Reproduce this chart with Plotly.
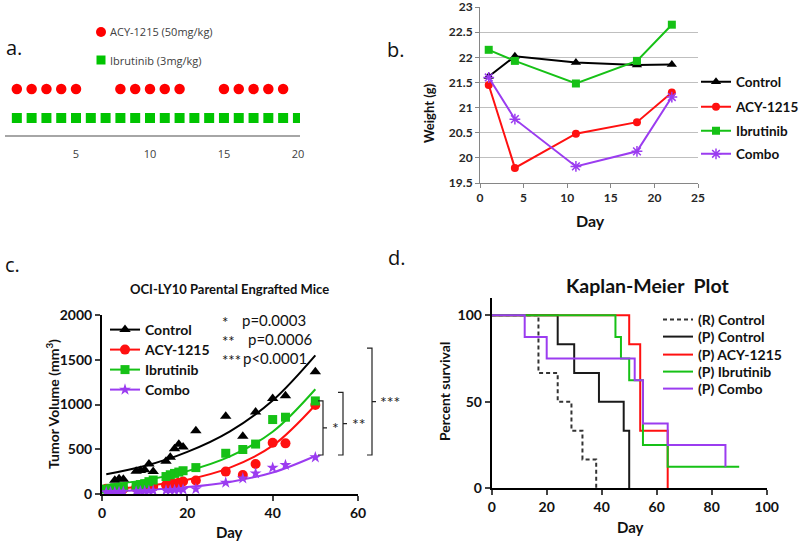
import plotly.graph_objects as go

W, H = 800, 542
FONT = "Lato"


def fx(p):
    return p / W


def fy(p):
    return 1 - p / H


# ---------------- panel a: dosing schedule ----------------
dose_acy_days = [1, 2, 3, 4, 5, 8, 9, 10, 11, 12, 15, 16, 17, 18, 19]
dose_ibr_days = [1, 2, 3, 4, 5, 6, 7, 8, 9, 10, 11, 12, 13, 14, 15, 16, 17, 18, 19, 20]
dose_rows = {"ACY-1215 (50mg/kg)": 1, "Ibrutinib (3mg/kg)": 0}
dose_ticks = [5, 10, 15, 20]

# ---------------- panel b: body weight ----------------
wt_days = [1, 4, 11, 18, 22]
wt_control = [21.62, 22.02, 21.90, 21.85, 21.86]
wt_acy = [21.45, 19.80, 20.48, 20.71, 21.30]
wt_ibr = [22.15, 21.93, 21.48, 21.93, 22.65]
wt_combo = [21.60, 20.77, 19.83, 20.13, 21.21]
wt_ticks = [19.5, 20, 20.5, 21, 21.5, 22, 22.5, 23]

# ---------------- panel c: tumor volume ----------------
tv_days = [1, 2, 3, 4, 5, 8, 9, 10, 11, 12, 15, 16, 17, 18, 19, 22, 29, 33, 36, 40, 43, 50]
tv_control = [45, 60, 155, 170, 165, 255, 262, 270, 335, 250, 365, 410, 505, 555, 525, 707,
              870, 645, 915, 1068, 1098, 1365]
tv_acy = [60, 55, 58, 62, 60, 70, 75, 80, 85, 82, 100, 115, 118, 125, 140, 150,
          250, 212, 335, 573, 566, 994]
tv_ibr = [55, 60, 70, 75, 80, 95, 105, 115, 138, 156, 195, 215, 230, 245, 260, 295,
          455, 497, 558, 832, 858, 1040]
tv_combo = [20, 22, 22, 25, 25, 28, 30, 32, 35, 38, 40, 42, 45, 48, 50, 55,
            127, 175, 231, 294, 324, 410]
# fitted growth curves
fit_days = [1, 10, 20, 30, 40, 50]
fit_control = [220, 312, 470, 700, 1045, 1550]
fit_acy = [50, 87, 160, 295, 540, 995]
fit_ibr = [100, 155, 256, 420, 695, 1170]
fit_combo = [28, 44, 77, 135, 240, 425]
pvals = [("*", "p=0.0003"), ("**", "p=0.0006"), ("***", "p<0.0001")]

# ---------------- panel d: Kaplan-Meier ----------------
km_r_control_t = [0, 17, 24, 29, 33, 38]
km_r_control_s = [100, 66.7, 50, 33.3, 16.7, 0]
km_p_control_t = [0, 24, 30, 39, 48, 50]
km_p_control_s = [100, 83.3, 66.7, 50, 33.3, 0]
km_acy_t = [0, 50, 54, 64]
km_acy_s = [100, 83.3, 33.3, 0]
km_ibr_t = [0, 45, 47, 50, 55, 64, 90]
km_ibr_s = [100, 87.5, 75, 62.5, 25, 12.5, 12.5]
km_combo_t = [0, 12, 20, 52, 55, 64, 85]
km_combo_s = [100, 87.5, 75, 62.5, 37.5, 25, 12.5]

RED = "#ff1010"
GREEN = "#16c116"
PURPLE = "#9b3cf0"
BLACK = "#000000"

# domains (pixel based)
dom = {
    "a": ([fx(5), fx(300)], [fy(135), fy(20)]),
    "b": ([fx(480), fx(698)], [fy(183), fy(7)]),
    "c": ([fx(102), fx(358)], [fy(494), fy(315)]),
    "d": ([fx(491.7), fx(766.7)], [fy(488.3), fy(298)]),
}

fig = go.Figure()

# ----- panel a traces
fig.add_trace(go.Scatter(x=dose_acy_days, y=[dose_rows["ACY-1215 (50mg/kg)"]] * len(dose_acy_days),
                         mode="markers", marker=dict(symbol="circle", size=10.5, color="#ff0000"),
                         xaxis="x", yaxis="y", showlegend=False, name="ACY-1215 (50mg/kg)"))
fig.add_trace(go.Scatter(x=dose_ibr_days, y=[dose_rows["Ibrutinib (3mg/kg)"]] * len(dose_ibr_days),
                         mode="markers", marker=dict(symbol="square", size=10, color="#00c400"),
                         xaxis="x", yaxis="y", showlegend=False, name="Ibrutinib (3mg/kg)"))

# ----- panel b traces
b_series = [
    ("Control", wt_control, BLACK, "triangle-up", 9, "legend"),
    ("ACY-1215", wt_acy, RED, "circle", 8, "legend2"),
    ("Ibrutinib", wt_ibr, GREEN, "square", 8, "legend3"),
    ("Combo", wt_combo, PURPLE, "asterisk-open", 9, "legend4"),
]
for name, vals, col, sym, sz, lg in b_series:
    mk = dict(symbol=sym, size=sz, color=col)
    if sym == "asterisk-open":
        mk["line"] = dict(color="#b070ff", width=1.5)
    fig.add_trace(go.Scatter(x=wt_days, y=vals, mode="lines+markers", name=name,
                             line=dict(color=col, width=2), marker=mk,
                             xaxis="x2", yaxis="y2", legend=lg))

# ----- panel c traces
c_series = [
    ("Control", tv_control, fit_control, BLACK, "triangle-up", 10, "legend5"),
    ("ACY-1215", tv_acy, fit_acy, RED, "circle", 10, "legend6"),
    ("Ibrutinib", tv_ibr, fit_ibr, GREEN, "square", 9, "legend7"),
    ("Combo", tv_combo, fit_combo, PURPLE, "star", 9, "legend8"),
]
for name, vals, fit, col, sym, sz, lg in c_series:
    fig.add_trace(go.Scatter(x=fit_days, y=fit, mode="lines", line=dict(color=col, width=2, shape="spline"),
                             xaxis="x3", yaxis="y3", showlegend=False, name=name + " fit"))
for name, vals, fit, col, sym, sz, lg in c_series:
    fig.add_trace(go.Scatter(x=tv_days, y=vals, mode="markers", name=name,
                             marker=dict(symbol=sym, size=sz, color=col),
                             xaxis="x3", yaxis="y3", showlegend=False))
    # legend entry: line + marker
    fig.add_trace(go.Scatter(x=[None], y=[None], mode="lines+markers", name=name,
                             line=dict(color=col, width=2),
                             marker=dict(symbol=sym, size=sz, color=col),
                             xaxis="x3", yaxis="y3", legend=lg))

# ----- panel d traces
d_series = [
    ("(R) Control", km_r_control_t, km_r_control_s, "#333333", "4px,3px", "legend9"),
    ("(P) Control", km_p_control_t, km_p_control_s, "#1a1a1a", "solid", "legend10"),
    ("(P) ACY-1215", km_acy_t, km_acy_s, RED, "solid", "legend11"),
    ("(P) Ibrutinib", km_ibr_t, km_ibr_s, GREEN, "solid", "legend12"),
    ("(P) Combo", km_combo_t, km_combo_s, PURPLE, "solid", "legend13"),
]
for name, t, s, col, dash, lg in d_series:
    fig.add_trace(go.Scatter(x=t, y=s, mode="lines", name=name,
                             line=dict(color=col, width=2, dash=dash, shape="hv"),
                             xaxis="x4", yaxis="y4", legend=lg))

# ---------------- axes ----------------
tickfont_b = dict(family=FONT, size=12, color="#262626", weight="bold")
tickfont_cd = dict(family=FONT, size=14, color="#111111", weight="bold")

layout = dict(
    width=W, height=H, margin=dict(l=0, r=0, t=0, b=0, autoexpand=False),
    paper_bgcolor="white", plot_bgcolor="rgba(0,0,0,0)",
    font=dict(family=FONT, color="#111111"),
    xaxis=dict(domain=dom["a"][0], anchor="y", range=[0.2, 20.14], tickvals=dose_ticks,
               showline=True, linecolor="#a6a6a6", linewidth=1.5, showgrid=False, zeroline=False,
               ticks="outside", ticklen=8, tickcolor="rgba(0,0,0,0)",
               tickfont=dict(family="Open Sans", size=11, color="#404040")),
    yaxis=dict(domain=dom["a"][1], anchor="x", range=[-0.586, 3.38], visible=False),

    xaxis2=dict(domain=dom["b"][0], anchor="y2", range=[0, 25], dtick=5, showgrid=False, zeroline=False,
                showline=True, linecolor="#868686", linewidth=1, ticks="outside", ticklen=4,
                tickcolor="#868686", tickfont=tickfont_b),
    yaxis2=dict(domain=dom["b"][1], anchor="x2", range=[19.5, 23.002], tickvals=wt_ticks, showgrid=True,
                gridcolor="#bfbfbf", gridwidth=1, zeroline=False, showline=True, linecolor="#868686",
                linewidth=1, ticks="outside", ticklen=4, tickcolor="#868686", tickfont=tickfont_b,
                ticklabeloverflow="allow"),

    xaxis3=dict(domain=dom["c"][0], anchor="y3", range=[0, 60], dtick=20, showgrid=False, zeroline=False,
                showline=True, linecolor="black", linewidth=2, ticks="outside", ticklen=5, tickwidth=2,
                tickfont=tickfont_cd),
    yaxis3=dict(domain=dom["c"][1], anchor="x3", range=[0, 2000], dtick=500, showgrid=False, zeroline=False,
                showline=True, linecolor="black", linewidth=2, ticks="outside", ticklen=5, tickwidth=2,
                tickfont=tickfont_cd),

    xaxis4=dict(domain=dom["d"][0], anchor="y4", range=[0, 100], dtick=20, showgrid=False, zeroline=False,
                showline=True, linecolor="black", linewidth=2, ticks="outside", ticklen=5, tickwidth=2,
                tickfont=tickfont_cd),
    yaxis4=dict(domain=dom["d"][1], anchor="x4", range=[0, 110], tickvals=[0, 50, 100], showgrid=False,
                zeroline=False, showline=True, linecolor="black", linewidth=2, ticks="outside", ticklen=5,
                tickwidth=2, tickfont=tickfont_cd),
)


def leg(x_text_px, y_px, size):
    return dict(x=fx(x_text_px - 40), y=fy(y_px), xanchor="left", yanchor="middle",
                bgcolor="rgba(0,0,0,0)", borderwidth=0, itemwidth=30,
                font=dict(family=FONT, size=size, color="#111111", weight="bold"))


legend_pos = {
    "legend": leg(736, 82, 13.5), "legend2": leg(736, 107, 13.5),
    "legend3": leg(736, 131, 13.5), "legend4": leg(736, 154, 13.5),
    "legend5": leg(145, 330, 14), "legend6": leg(145, 350, 14),
    "legend7": leg(145, 370, 14), "legend8": leg(145, 390, 14),
    "legend9": leg(698, 320, 14), "legend10": leg(698, 337, 14),
    "legend11": leg(698, 355, 14), "legend12": leg(698, 372, 14),
    "legend13": leg(698, 389, 14),
}
layout.update(legend_pos)
fig.update_layout(**layout)

ann = []


def text(x, y, s, size, bold=False, xanchor="center", yanchor="middle", angle=0, family=FONT, color="#111111"):
    ann.append(dict(x=fx(x), y=fy(y), xref="paper", yref="paper", text=s, showarrow=False,
                    xanchor=xanchor, yanchor=yanchor, textangle=angle,
                    font=dict(family=family, size=size, color=color, weight="bold" if bold else "normal")))


# panel labels
text(4, 47, "a.", 20, xanchor="left", family="Open Sans")
text(385, 49, "b.", 20, xanchor="left", family="Open Sans")
text(3, 265, "c.", 20, xanchor="left", family="Open Sans")
text(386, 257, "d.", 20, xanchor="left", family="Open Sans")

# panel a key
text(108, 32, "ACY-1215 (50mg/kg)", 11, xanchor="left", family="Open Sans", color="#404040")
text(108, 60, "Ibrutinib (3mg/kg)", 11, xanchor="left", family="Open Sans", color="#404040")
shapes = [
    dict(type="circle", xref="paper", yref="paper", x0=fx(96), x1=fx(106), y0=fy(37), y1=fy(27),
         fillcolor="#ff0000", line=dict(width=0)),
    dict(type="rect", xref="paper", yref="paper", x0=fx(96.5), x1=fx(105.5), y0=fy(64.5), y1=fy(55.5),
         fillcolor="#00c400", line=dict(width=0)),
]

# panel b titles
text(429, 113, "Weight (g)", 13, bold=True, angle=-90)
text(590, 221, "Day", 16, bold=True)

# panel c titles
text(230, 289, "OCI-LY10 Parental Engrafted Mice", 13, bold=True)
text(52, 404, "Tumor Volume (mm<sup>3</sup>)", 14, bold=True, angle=-90)
text(230, 532, "Day", 15, bold=True)
p_y = [320, 339, 358]
p_x = [240, 246, 241]
for (st, pv), yy, xx in zip(pvals, p_y, p_x):
    text(220, yy + 2, st, 15, xanchor="left")
    text(xx, yy, pv, 15, xanchor="left")

# significance brackets (paper coords derived from panel c scale)
cy0, cy1 = dom["c"][1]


def ycv(v):
    return cy0 + v / 2000 * (cy1 - cy0)


brackets = [
    (323, tv_acy[-1] + 46, tv_combo[-1] + 26, "*", 335),
    (343, fit_ibr[-1] - 35, tv_combo[-1] + 26, "**", 359),
    (372, fit_control[-1] + 80, tv_combo[-1] + 26, "***", 390),
]
for xb, vtop, vbot, lab, xt in brackets:
    yt, yb = ycv(vtop), ycv(vbot)
    ym = (yt + yb) / 2
    path = (f"M {fx(xb - 5)},{yt} L {fx(xb)},{yt} L {fx(xb)},{yb} L {fx(xb - 5)},{yb} "
            f"M {fx(xb)},{ym} L {fx(xb + 4)},{ym}")
    shapes.append(dict(type="path", xref="paper", yref="paper", path=path,
                       line=dict(color="#222222", width=1.2)))
    ann.append(dict(x=fx(xt), y=ym, xref="paper", yref="paper", text=lab, showarrow=False,
                    xanchor="center", yanchor="middle", font=dict(family=FONT, size=16, color="#222222")))

# panel d titles
text(647, 285, "Kaplan-Meier  Plot", 19.5, bold=True)
text(444, 392, "Percent survival", 14, bold=True, angle=-90)
text(630, 527, "Day", 15, bold=True)

fig.update_layout(annotations=ann, shapes=shapes)
fig.write_html("out.html", config={"displayModeBar": False},
               post_script="document.body.style.margin='0px';document.body.style.padding='0px';")
